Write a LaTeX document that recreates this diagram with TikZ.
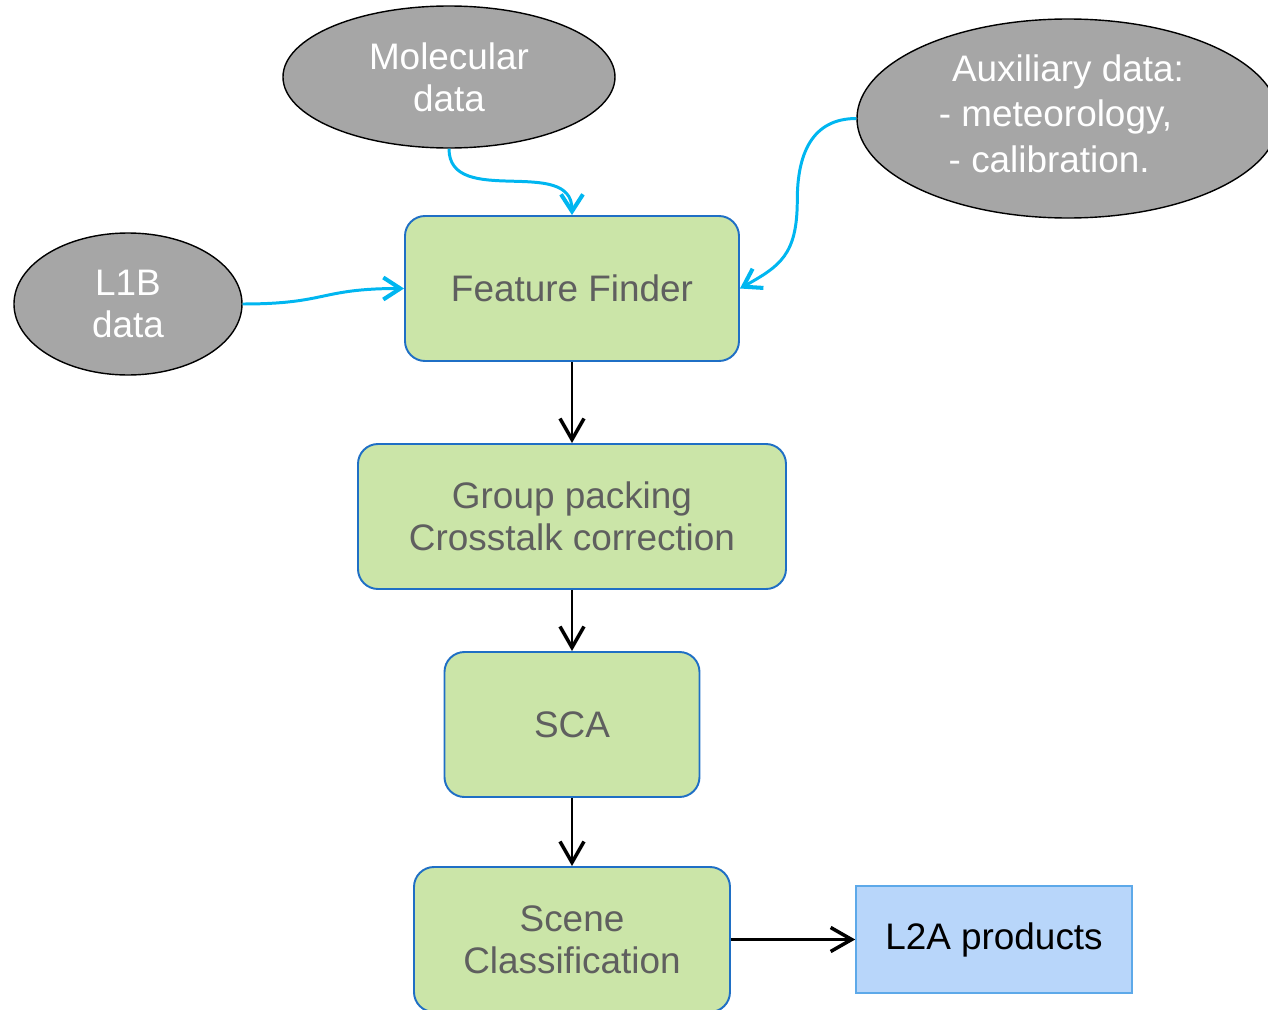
\documentclass[tikz,border=0pt]{standalone}
\usepackage{fontspec}
\setmainfont{Liberation Sans}
\usetikzlibrary{arrows.meta, shapes.geometric}
\definecolor{boxgreen}{HTML}{CBE5A8}
\definecolor{boxblue}{HTML}{1F6FC5}
\definecolor{textgray}{HTML}{5F5F5F}
\definecolor{ovalgray}{HTML}{A6A6A6}
\definecolor{feedcyan}{HTML}{00B6F0}
\definecolor{productblue}{HTML}{B8D6FA}
\definecolor{productedge}{HTML}{5DA9E9}

\begin{document}
\begin{tikzpicture}[
    node distance=4.3cm, every node/.style={align=center, font=\fontsize{21}{24}\selectfont},
    step_box/.style={draw=boxblue, line width=1.1pt, fill=boxgreen, rounded corners=0.4cm, minimum height=2.9cm, text=textgray, inner sep=0pt},
    input_oval/.style={ellipse, draw=black, line width=0.8pt, fill=ovalgray, text=white, minimum height=2.84cm, inner sep=0pt},
    flow/.style={-{Straight Barb[length=4.2mm, width=4.8mm, line width=2pt]}, line width=1.2pt},
    feed/.style={-{Straight Barb[length=3.4mm, width=4.4mm, line width=2.3pt]}, draw=feedcyan, line width=1.7pt}
]
\useasboundingbox (-11.44,-14.43) rectangle (13.92,5.77);
\clip (-11.44,-14.43) rectangle (13.92,5.77);

\node (feature_finder) [step_box, minimum width=6.68cm] {Feature Finder};
\node (group_packing) [step_box, minimum width=8.56cm, below of=feature_finder, yshift=-0.26cm] {Group packing\\Crosstalk correction};
\node (sca) [step_box, minimum width=5.1cm, below of=group_packing, yshift=0.14cm] {SCA};
\node (scene_classification) [step_box, minimum width=6.32cm, below of=sca] {Scene\\Classification};
\node (l2a_products) [rectangle, draw=productedge, line width=0.9pt, fill=productblue, minimum width=5.52cm, minimum height=2.14cm, right of=scene_classification, xshift=4.14cm] {L2A products};

\node (molecular_data) [input_oval, minimum width=6.64cm, above of=feature_finder, xshift=-2.46cm, yshift=-0.07cm] {Molecular\\data};
\node (l1b_data) [input_oval, minimum width=4.56cm, left of=feature_finder, xshift=-4.58cm, yshift=-0.31cm] {L1B\\data};
\node (auxiliary_data) [input_oval, minimum width=8.44cm, minimum height=3.98cm, right of=feature_finder, xshift=5.62cm, yshift=3.4cm, font=\fontsize{21}{26}\selectfont] {Auxiliary data:\\- meteorology,\hspace*{0.5cm}\mbox{}\\- calibration.\hspace*{0.75cm}\mbox{}\rule[-0.2cm]{0pt}{0.2cm}};

\draw[flow] (feature_finder) -- (group_packing);
\draw[flow] (group_packing) -- (sca);
\draw[flow] (sca) -- (scene_classification);
\draw[flow] (scene_classification) -- (l2a_products);
\draw[feed] (l1b_data.east) .. controls +(1.7,0) and +(-1.7,0) .. (feature_finder.west);
\draw[feed] (molecular_data.south) .. controls +(0,-1.2) and +(0,1.2) .. (feature_finder.north);
\draw[feed] (auxiliary_data.west) .. controls +(-0.9,0) and +(0,0.9) .. ++(-1.18,-1.63) .. controls +(0,-1.1) and +(0.8,0.45) .. (feature_finder.east);
\end{tikzpicture}
\end{document}
